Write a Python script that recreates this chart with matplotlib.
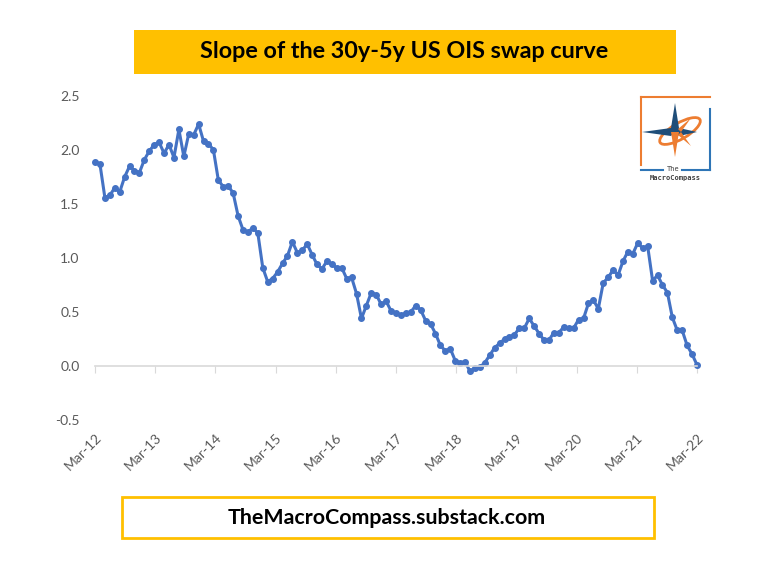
import numpy as np
import pandas as pd
import matplotlib
matplotlib.use("Agg")
import matplotlib.pyplot as plt
from matplotlib.patches import Rectangle, Polygon, Ellipse

# slope 30y-5y US OIS swap curve (Mar-12 .. Mar-22)
slope = [
    1.89, 1.87, 1.56, 1.58, 1.65, 1.61, 1.75, 1.85, 1.81, 1.79,
    1.91, 1.99, 2.05, 2.07, 1.97, 2.05, 1.93, 2.19, 1.94, 2.15,
    2.14, 2.24, 2.08, 2.06, 2.00, 1.72, 1.66, 1.67, 1.60, 1.39,
    1.26, 1.24, 1.28, 1.23, 0.91, 0.78, 0.81, 0.87, 0.95, 1.02,
    1.15, 1.05, 1.07, 1.13, 1.03, 0.94, 0.90, 0.97, 0.94, 0.91,
    0.91, 0.81, 0.82, 0.67, 0.44, 0.56, 0.68, 0.66, 0.57, 0.60,
    0.51, 0.49, 0.47, 0.49, 0.50, 0.56, 0.52, 0.42, 0.39, 0.30,
    0.19, 0.14, 0.16, 0.05, 0.03, 0.04, -0.05, -0.02, -0.01, 0.03,
    0.10, 0.17, 0.21, 0.25, 0.27, 0.29, 0.35, 0.35, 0.44, 0.37,
    0.30, 0.24, 0.24, 0.31, 0.31, 0.36, 0.35, 0.35, 0.43, 0.44,
    0.58, 0.61, 0.53, 0.77, 0.82, 0.89, 0.84, 0.97, 1.06, 1.04,
    1.14, 1.09, 1.11, 0.79, 0.84, 0.75, 0.68, 0.45, 0.33, 0.33,
    0.19, 0.11, 0.01,
]
start, end = "2012-03-01", "2022-03-01"
dates = pd.date_range(start, end, periods=len(slope))
tick_dates = pd.date_range(start, end, freq="12MS")
tick_labels = [d.strftime("%b-%y") for d in tick_dates]
y_ticks = [-0.5, 0.0, 0.5, 1.0, 1.5, 2.0, 2.5]

BLUE = "#4472C4"
GOLD = "#FFC000"
GREY = "#595959"
plt.rcParams["font.family"] = ["Lato", "DejaVu Sans"]

W, H = 783, 583
fig = plt.figure(figsize=(W / 100, H / 100), dpi=100)

ax = fig.add_axes([95 / W, 1 - 420 / H, 602 / W, 324 / H])
ax.plot(dates, slope, color=BLUE, lw=2.2, marker="o", ms=4, mec=BLUE, mfc=BLUE,
        clip_on=False)
ax.set_xlim(pd.Timestamp(start), pd.Timestamp(end))
ax.set_ylim(-0.5, 2.5)
ax.set_yticks(y_ticks)
ax.set_yticklabels([f"{v:.1f}" for v in y_ticks])
ax.set_xticks(tick_dates)
ax.set_xticklabels(tick_labels)
for s in ["top", "right", "left"]:
    ax.spines[s].set_visible(False)
ax.spines["bottom"].set_position(("data", 0))
ax.spines["bottom"].set_color("#D9D9D9")
ax.spines["bottom"].set_linewidth(1.2)
ax.tick_params(axis="y", length=0, pad=11, labelsize=10, labelcolor=GREY)
ax.tick_params(axis="x", direction="out", length=5, color="#D9D9D9",
               labelsize=10, labelcolor=GREY, pad=42, labelrotation=45)
for lab in ax.get_xticklabels():
    lab.set_ha("right")
    lab.set_rotation_mode("anchor")

# title box
fig.patches.append(Rectangle((134 / W, 1 - 74 / H), 542 / W, 44 / H,
                             transform=fig.transFigure, fc=GOLD, ec="none"))
fig.text(404 / W, 1 - 52 / H, "Slope of the 30y-5y US OIS swap curve",
         ha="center", va="center", fontsize=16.8, fontweight="bold", color="black")

# footer box
fig.patches.append(Rectangle((122 / W, 1 - 538 / H), 532 / W, 41 / H,
                             transform=fig.transFigure, fc="white", ec=GOLD, lw=2))
fig.text(387 / W, 1 - 518 / H, "TheMacroCompass.substack.com",
         ha="center", va="center", fontsize=15.4, fontweight="bold", color="black")

# logo
lg = fig.add_axes([636 / W, 1 - 184 / H, 78 / W, 89 / H])
lg.set_xlim(0, 78)
lg.set_ylim(89, 0)
lg.axis("off")
ORANGE = "#ED7D31"
NAVY = "#1F4E79"
lg.plot([5, 74], [2, 2], color=ORANGE, lw=1.5)
lg.plot([5, 5], [2, 70], color=ORANGE, lw=1.5)
lg.plot([74, 74], [14, 75], color="#2E75B6", lw=1.5)
lg.plot([5, 27], [75, 75], color="#2E75B6", lw=1.5)
lg.plot([46, 74], [75, 75], color="#2E75B6", lw=1.5)
lg.text(37, 74, "The", ha="center", va="center", fontsize=5, color="#404040",
        family="DejaVu Sans Mono")
lg.text(39, 83, "MacroCompass", ha="center", va="center", fontsize=5,
        color="#404040", family="DejaVu Sans Mono", fontweight="bold")
lg.add_patch(Ellipse((44, 36), 46, 16, angle=-30, fc="none", ec=ORANGE, lw=2))
cx, cy = 39, 37
lg.add_patch(Polygon([(cx, 8), (cx + 4, cy - 4), (cx + 22, cy), (cx + 4, cy + 4),
                      (cx, cy), (cx - 4, cy + 4), (6, cy), (cx - 4, cy - 4)],
                     fc=NAVY, ec="none"))
lg.add_patch(Polygon([(cx - 4, cy), (cx, cy), (cx + 4, cy), (cx, 62)],
                     fc=ORANGE, ec="none"))
lg.add_patch(Polygon([(cx + 3, cy - 3), (cx + 16, cy - 14), (cx + 6, cy)],
                     fc=ORANGE, ec="none"))
lg.add_patch(Polygon([(cx + 3, cy + 3), (cx + 16, cy + 14), (cx + 6, cy)],
                     fc=ORANGE, ec="none"))

fig.savefig("out.png", dpi=100)
